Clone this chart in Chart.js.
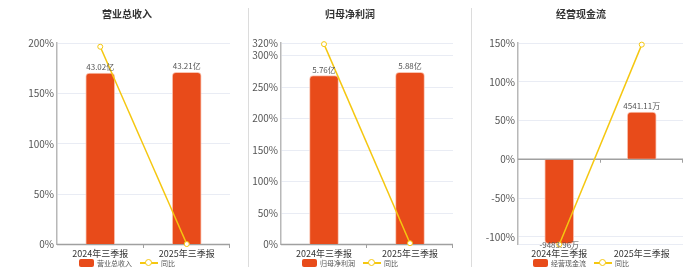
<!DOCTYPE html>
<html><head><meta charset="utf-8">
<script src="https://cdn.jsdelivr.net/npm/chart.js@4"></script>
<style>
html,body{margin:0;padding:0;background:#fff;width:700px;height:272px;overflow:hidden;font-family:"Noto Sans CJK SC","Noto Sans",sans-serif;}
canvas{position:absolute;top:0;}
.title{position:absolute;top:6px;font-size:10px;font-weight:bold;color:#333;transform:translateX(-50%);white-space:nowrap;line-height:16px;}
.sep{position:absolute;top:8px;height:259px;width:1px;background:#dcdcdc;}
.legend{position:absolute;top:257px;transform:translateX(-50%);display:flex;align-items:center;font-size:7px;color:#555;white-space:nowrap;height:12px;line-height:12px;}
.lbox{display:inline-block;width:15px;height:8px;background:#E84B1A;border-radius:2px;margin-right:3px;}
.lline{display:inline-block;position:relative;width:18px;height:1.5px;background:#F5C710;margin:0 3px 0 8px;}
.lline::after{content:"";position:absolute;left:5px;top:-3px;width:5px;height:5px;border:1.2px solid #F5C710;border-radius:50%;background:#fff;}
</style>
</head><body>
<canvas id="c1" width="254" height="272" style="left:0px"></canvas>
<canvas id="c2" width="220" height="272" style="left:240px"></canvas>
<canvas id="c3" width="220" height="272" style="left:471px"></canvas>
<div class="sep" style="left:248px"></div>
<div class="sep" style="left:471px"></div>
<div class="title" style="left:127px">营业总收入</div>
<div class="title" style="left:350px">归母净利润</div>
<div class="title" style="left:581px">经营现金流</div>
<div class="legend" style="left:127px"><span class="lbox"></span>营业总收入<span class="lline"></span>同比</div>
<div class="legend" style="left:350px"><span class="lbox"></span>归母净利润<span class="lline"></span>同比</div>
<div class="legend" style="left:581px"><span class="lbox"></span>经营现金流<span class="lline"></span>同比</div>
<script>
const categories = ['2024年三季报', '2025年三季报'];

const revenueBar = [170.1, 170.8];
const revenueLabels = ['43.02亿', '43.21亿'];
const revenueYoY = [196.3, 0.44];
const revenueTicks = [0, 50, 100, 150, 200];

const profitBar = [268.1, 273.4];
const profitLabels = ['5.76亿', '5.88亿'];
const profitYoY = [318.2, 2.08];
const profitTicks = [0, 50, 100, 150, 200, 250, 300, 320];

const cashBar = [-108.8, 61.0];
const cashLabels = ['-9483.96万', '4541.11万'];
const cashYoY = [-110, 147.9];
const cashTicks = [-110, -100, -50, 0, 50, 100, 150];
const cashHiddenTicks = [-110];

Chart.defaults.font.family = '"Noto Sans CJK SC","Noto Sans",sans-serif';
Chart.defaults.animation = false;

const BAR = '#E84B1A', GOLD = '#F5C710';

const extras = {
  id: 'extras',
  beforeDatasetsDraw(chart) {
    const {ctx, chartArea, scales: {x, y}} = chart;
    const y0 = y.getPixelForValue(0);
    ctx.save();
    ctx.strokeStyle = '#a0a0a0';
    ctx.lineWidth = 1.5;
    ctx.beginPath(); ctx.moveTo(chartArea.left, y0); ctx.lineTo(chartArea.right, y0); ctx.stroke();
    ctx.lineWidth = 1;
    const n = x.ticks.length;
    for (let i = 0; i < n; i++) {
      const px = i < n - 1 ? (x.getPixelForTick(i) + x.getPixelForTick(i + 1)) / 2 : chartArea.right;
      const rx = Math.round(px) - 0.5;
      ctx.beginPath(); ctx.moveTo(rx, y0); ctx.lineTo(rx, y0 + 3.5); ctx.stroke();
    }
    ctx.restore();
  },
  afterDatasetsDraw(chart, args, opts) {
    const {ctx} = chart;
    const meta = chart.getDatasetMeta(0);
    ctx.save();
    ctx.font = '8px "Noto Sans CJK SC","Noto Sans",sans-serif';
    ctx.fillStyle = '#555';
    ctx.textAlign = 'center';
    ctx.textBaseline = 'middle';
    meta.data.forEach((el, i) => {
      const v = chart.data.datasets[0].data[i];
      const yy = v >= 0 ? el.y - 6 : el.y + 1.5;
      ctx.fillText(opts.labels[i], el.x, yy);
    });
    ctx.restore();
  }
};

function makeChart(id, bars, labels, yoy, ticks, hidden, yWidth, padRight, barName) {
  const min = ticks[0], max = ticks[ticks.length - 1];
  return new Chart(document.getElementById(id), {
    type: 'bar',
    data: {
      labels: categories,
      datasets: [
        {type: 'bar', label: barName, data: bars, backgroundColor: BAR, borderColor: 'rgba(250,190,170,0.9)', borderWidth: 1,
         borderRadius: 4, borderSkipped: 'start', barThickness: 29, order: 2},
        {type: 'line', label: '同比', data: yoy, borderColor: GOLD, borderWidth: 1.5, pointRadius: 2.5,
         pointBorderWidth: 1, pointBackgroundColor: '#fff', pointBorderColor: GOLD, tension: 0, clip: false, order: 1}
      ]
    },
    options: {
      responsive: false,
      layout: {padding: {top: 43, right: padRight, left: 0, bottom: 0}},
      plugins: {legend: {display: false}, tooltip: {enabled: false}, title: {display: false}, extras: {labels: labels}},
      scales: {
        x: {
          grid: {display: false, drawTicks: false},
          border: {display: false},
          ticks: {font: {size: 9}, color: '#333', padding: 4, maxRotation: 0, autoSkip: false},
          afterFit(s) { s.height = 27.5; }
        },
        y: {
          min: min, max: max,
          grid: {color: '#E9ECF4', lineWidth: 1, drawTicks: false},
          border: {display: true, color: '#b8b8b8', width: 1.5},
          ticks: {font: {size: 10}, color: '#555', padding: 3, autoSkip: false,
                  callback: v => hidden.includes(v) ? '' : v + '%'},
          afterBuildTicks(s) { s.ticks = ticks.map(v => ({value: v})); },
          afterFit(s) { s.width = yWidth; }
        }
      }
    },
    plugins: [extras]
  });
}

makeChart('c1', revenueBar, revenueLabels, revenueYoY, revenueTicks, [], 57, 24, '营业总收入');
makeChart('c2', profitBar, profitLabels, profitYoY, profitTicks, [], 41, 7, '归母净利润');
makeChart('c3', cashBar, cashLabels, cashYoY, cashTicks, cashHiddenTicks, 47, 8, '经营现金流');
</script>
</body></html>
